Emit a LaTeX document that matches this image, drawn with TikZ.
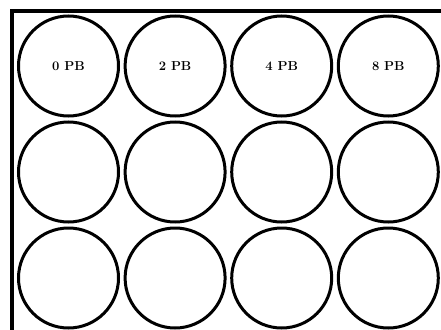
\documentclass[tikz,border=0pt]{standalone}
\usepackage{fontspec}
\setmainfont{Latin Modern Roman}
\begin{document}
\begin{tikzpicture}[x=1pt,y=-1pt,
  well/.style={circle,draw=black,line width=3pt,minimum size=100pt,inner sep=0pt,font=\bfseries\fontsize{13}{14}\selectfont},
  frame/.style={draw=black,line width=4pt}]
\useasboundingbox (0,0) rectangle (441,329);
\begin{scope}
\clip (0,0) rectangle (441,329);
\draw[frame] (12,340) -- (12,11) -- (460,11);
\end{scope}
\foreach \c/\lab in {0/0 PB,1/2 PB,2/4 PB,3/8 PB}{
  \node[well] (w0\c) at ({68.5+106.6*\c},66) {\lab};
}
\foreach \r in {1,2}{
  \foreach \c in {0,1,2,3}{
    \node[well] (w\r\c) at ({68.5+106.6*\c},{66+106*\r}) {};
  }
}
\end{tikzpicture}
\end{document}
